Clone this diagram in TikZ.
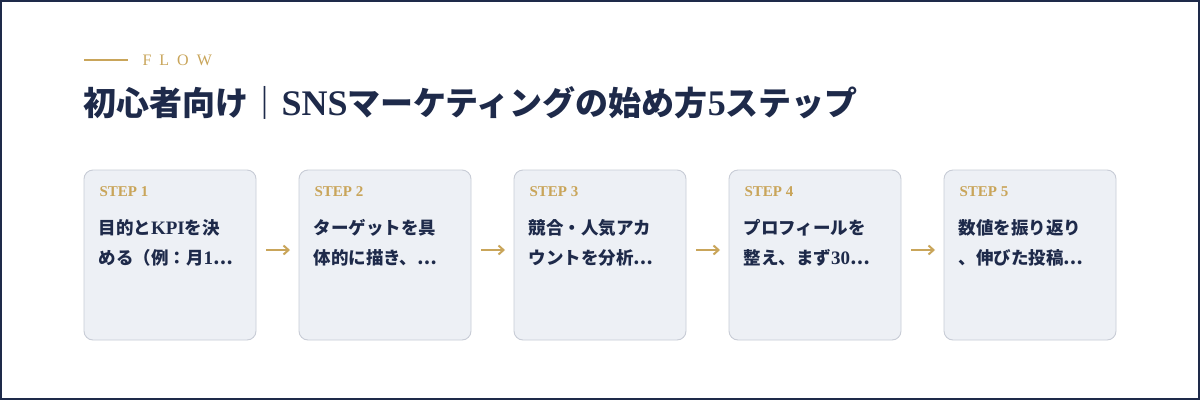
\documentclass[tikz,border=0pt]{standalone}
\usepackage{fontspec}
\usetikzlibrary{arrows.meta}
\setmainfont{Liberation Serif}
\newfontfamily\jp{Noto Sans CJK JP}
\newfontfamily\lat{Liberation Serif}
\newfontfamily\stp{Liberation Serif}
\definecolor{navy}{HTML}{1E2A4A}
\definecolor{gold}{HTML}{C9A55A}
\definecolor{boxbg}{HTML}{EDF0F5}
\definecolor{boxln}{HTML}{C8CCD6}
\begin{document}
\begin{tikzpicture}[x=1pt,y=-1pt,
  box/.style={draw=boxln,fill=boxbg,rounded corners=9pt,line width=0.9pt},
  steplbl/.style={anchor=west,text=gold,font=\fontsize{15}{15}\bfseries\stp},
  body/.style={anchor=north west,text=navy,align=left,font=\fontsize{17.5}{30}\jp\bfseries},
  arr/.style={-{Straight Barb[length=5pt,width=9pt]},draw=gold,line width=2pt}]
\useasboundingbox (0,0) rectangle (1200,400);
\fill[white] (0,0) rectangle (1200,400);
\draw[navy,line width=2pt] (1,1) rectangle (1199,399);
\draw[gold,line width=1.5pt] (84,60) -- (128,60);
\node[anchor=west,text=gold,font=\fontsize{16}{16}\lat] (flow) at (139,60) {F\,\,\,L\,\,\,O\,\,\,W};
\node[anchor=west,text=navy,font=\fontsize{33}{33}\jp\bfseries] (title) at (80,103) {初心者向け｜{\lat\bfseries\fontsize{36}{36}\selectfont SNS}マーケティングの始め方{\lat\bfseries\fontsize{36}{36}\selectfont 5}ステップ};
\foreach \i/\t in {1/{目的と{\lat\fontsize{19}{30}\selectfont KPI}を決\\める（例：月{\lat\fontsize{19}{30}\selectfont 1}…},
                   2/{ターゲットを具\\体的に描き、…},
                   3/{競合・人気アカ\\ウントを分析…},
                   4/{プロフィールを\\整え、まず{\lat\fontsize{19}{30}\selectfont 30}…},
                   5/{数値を振り返り\\、伸びた投稿…}}{
  \pgfmathsetmacro\xx{84+(\i-1)*215}
  \draw[box] (\xx,170) rectangle ++(172,170);
  \node[steplbl] (s\i) at (\xx+12,192) {STEP \i};
  \node[body] (b\i) at (\xx+11,216) {\t};
}
\foreach \i in {1,...,4}{
  \pgfmathsetmacro\xa{84+(\i-1)*215+182}
  \coordinate (a\i) at (\xa,250);
  \coordinate (e\i) at (\xa+24,250);
  \draw[arr] (a\i) -- (e\i);
}
\end{tikzpicture}
\end{document}
